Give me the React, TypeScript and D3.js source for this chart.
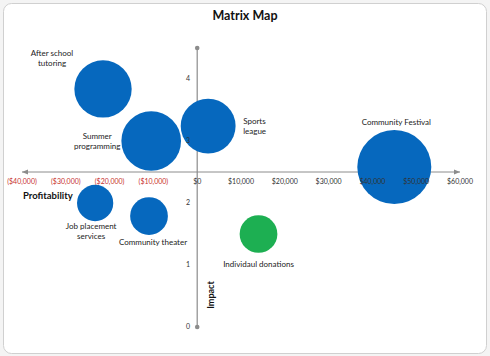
import React from "react";
import * as d3 from "d3";

const names = [
  "After school tutoring",
  "Summer programming",
  "Sports league",
  "Community Festival",
  "Individaul donations",
  "Job placement services",
  "Community theater",
];
const profit = [-21500, -10500, 2500, 45000, 14000, -23300, -11000];
const impact = [3.84, 3.0, 3.24, 2.58, 1.5, 2.0, 1.79];
const bubbleSize = [6, 6.5, 5.5, 10, 2.6, 2.4, 2.6];
const kind = ["program", "program", "program", "program", "donation", "program", "program"];

const xTicks = [-40000, -30000, -20000, -10000, 0, 10000, 20000, 30000, 40000, 50000, 60000];
const yTicks = [0, 1, 2, 3, 4];

// label layout (styling, not data)
const labelLayout: Record<string, { lines: string[]; dx: number; dy: number[]; anchor: string }> = {
  "After school tutoring": { lines: ["After school", "tutoring"], dx: -51, dy: [-35, -25], anchor: "middle" },
  "Summer programming": { lines: ["Summer", "programming"], dx: -54, dy: [-4, 6], anchor: "middle" },
  "Sports league": { lines: ["Sports", "league"], dx: 35, dy: [-4, 6], anchor: "start" },
  "Community Festival": { lines: ["Community Festival"], dx: 2, dy: [-44], anchor: "middle" },
  "Individaul donations": { lines: ["Individaul donations"], dx: 0, dy: [31], anchor: "middle" },
  "Job placement services": { lines: ["Job placement", "services"], dx: -4, dy: [24, 34], anchor: "middle" },
  "Community theater": { lines: ["Community theater"], dx: 4, dy: [27], anchor: "middle" },
};

const W = 490;
const H = 356;
const FONT = "Lato, 'Open Sans', sans-serif";

export default function App() {
  const x = d3.scaleLinear().domain([-40000, 60000]).range([22, 460]);
  const y = d3.scaleLinear().domain([0, 4.5]).range([327, 48]);
  const r = d3.scaleSqrt().domain([0, 10]).range([0, 37]);
  const color = (k: string) => (k === "donation" ? "#1DAF52" : "#0668BE");
  const fmt = (v: number) => {
    const s = "$" + d3.format(",")(Math.abs(v));
    return v < 0 ? "(" + s + ")" : s;
  };
  const axisY = y(2.5);
  const axisX = x(0);
  const axisColor = "#8c8c8c";

  return (
    <svg width={W} height={H} style={{ position: "absolute", left: 0, top: 0 }} fontFamily={FONT}>
      <rect x={0} y={0} width={W} height={H} fill="#f4f4f4" />
      <rect x={3.5} y={3.5} width={W - 7} height={H - 6} rx={8} fill="#ffffff" stroke="#d0d0d0" />
      <text x={245} y={17} textAnchor="middle" dominantBaseline="middle" fontWeight="bold" fontSize={12.5} fill="#111">
        Matrix Map
      </text>

      {/* horizontal axis line */}
      <line x1={x(-40000)} x2={x(60000)} y1={axisY} y2={axisY} stroke={axisColor} strokeWidth={1} />
      <path d={`M${x(-40000) + 6},${axisY - 2.5} L${x(-40000)},${axisY} L${x(-40000) + 6},${axisY + 2.5}`} fill={axisColor} />
      <path d={`M${x(60000) - 6},${axisY - 2.5} L${x(60000)},${axisY} L${x(60000) - 6},${axisY + 2.5}`} fill={axisColor} />

      {/* vertical axis line */}
      <line x1={axisX} x2={axisX} y1={y(4.5)} y2={y(0)} stroke={axisColor} strokeWidth={1.2} />
      <circle cx={axisX} cy={y(4.5)} r={2.3} fill={axisColor} />
      <circle cx={axisX} cy={y(0)} r={2.3} fill={axisColor} />

      {/* bubbles */}
      {names.map((n, i) => (
        <circle key={n} cx={x(profit[i])} cy={y(impact[i])} r={r(bubbleSize[i])} fill={color(kind[i])} />
      ))}

      {/* tick labels on top of bubbles */}
      {xTicks.map((t) => (
        <text key={t} x={x(t)} y={axisY + 10} textAnchor="middle" dominantBaseline="middle" fontSize={7} fill={t < 0 ? "#c8312c" : "#333"}>
          {fmt(t)}
        </text>
      ))}
      {yTicks.map((t) => (
        <text key={t} x={188} y={y(t)} textAnchor="middle" dominantBaseline="middle" fontSize={7} fill="#333">
          {t}
        </text>
      ))}

      {/* labels */}
      {names.map((n, i) => {
        const L = labelLayout[n];
        return L.lines.map((ln, j) => (
          <text
            key={n + j}
            x={x(profit[i]) + L.dx}
            y={y(impact[i]) + L.dy[j]}
            textAnchor={L.anchor}
            dominantBaseline="middle"
            fontSize={8}
            fill="#222"
          >
            {ln}
          </text>
        ));
      })}

      <text x={23} y={197} dominantBaseline="middle" fontWeight="bold" fontSize={9.5} fill="#111">
        Profitability
      </text>
      <text
        transform={`translate(212,295) rotate(-90)`}
        textAnchor="middle"
        dominantBaseline="middle"
        fontWeight="bold"
        fontSize={9}
        fill="#111"
      >
        Impact
      </text>
    </svg>
  );
}
